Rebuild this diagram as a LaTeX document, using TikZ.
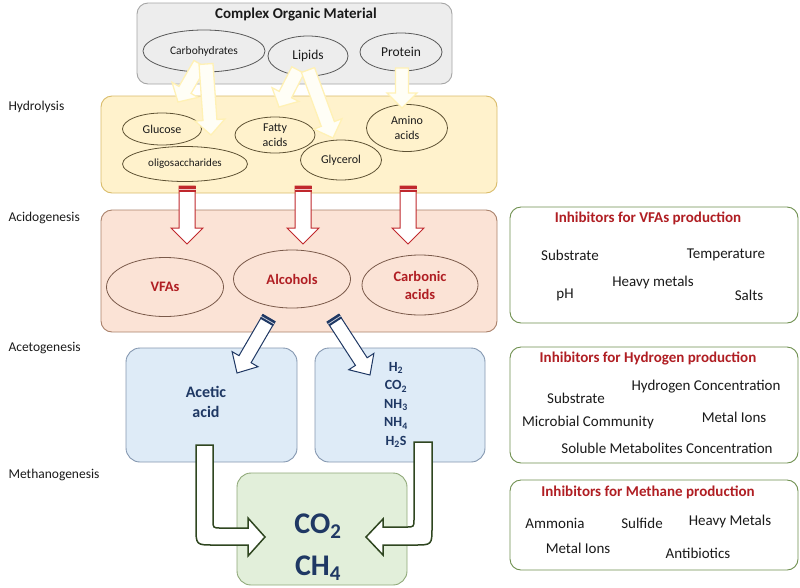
\documentclass[tikz,border=0pt]{standalone}
\usepackage{fontspec}
\setmainfont{Carlito}
\usepackage{tikz}
\usetikzlibrary{calc,shapes.geometric}
\definecolor{grisfondo}{HTML}{EDEDED}
\definecolor{grisborde}{HTML}{A5A5A5}
\definecolor{amarfondo}{HTML}{FFF2CC}
\definecolor{amarborde}{HTML}{D9BC6A}
\definecolor{rosafondo}{HTML}{FBE3D6}
\definecolor{rosaborde}{HTML}{A9806A}
\definecolor{azulfondo}{HTML}{DEEBF7}
\definecolor{azulborde}{HTML}{8497B0}
\definecolor{verdefondo}{HTML}{E2EFDA}
\definecolor{verdeborde}{HTML}{8FA878}
\definecolor{verdemarco}{HTML}{6E8F4E}
\definecolor{verdeflecha}{HTML}{2F4620}
\definecolor{rojotexto}{HTML}{B01E23}
\definecolor{rojoflecha}{HTML}{C0282D}
\definecolor{azultexto}{HTML}{1F3864}
\definecolor{tinta}{HTML}{1A1A1A}
\definecolor{tinta2}{HTML}{595959}
\definecolor{olivo}{HTML}{5E5233}
\definecolor{cafe}{HTML}{7A5A4A}
\definecolor{flechaborde}{HTML}{FFF1B5}
\definecolor{flechafondo}{HTML}{FFFEF6}
\tikzset{
  caja/.style={draw,rounded corners=11pt,line width=0.9pt,inner sep=0pt},
  marco/.style={caja,draw=verdemarco,fill=white,minimum width=288pt},
  elipse/.style={ellipse,draw=tinta2,line width=0.8pt,inner sep=0pt,text=tinta,font=\fontsize{12}{15}\selectfont,align=center},
  producto/.style={elipse,draw=cafe,text=rojotexto,minimum width=117pt,font=\fontsize{14.5}{18}\selectfont\bfseries},
  etapa/.style={anchor=west,text=tinta,font=\fontsize{13.5}{16}\selectfont},
  inhib/.style={text=rojotexto,font=\fontsize{15}{18}\selectfont\bfseries},
  factor/.style={text=tinta,font=\fontsize{15}{18}\selectfont},
  quimico/.style={text=azultexto,align=center},
  flechaclara/.style={draw=flechaborde,fill=flechafondo,line width=1.3pt,line join=miter},
  flecharoja/.style={draw=rojoflecha,fill=white,line width=1pt,line join=miter},
  flechaazul/.style={draw=azultexto,fill=white,line width=1pt,line join=miter},
  flechaverde/.style={draw=verdeflecha,fill=white,line width=1.5pt,line join=miter},
}
% flecha de bloque: estilo, desde, hacia, semiancho, semiancho punta, largo punta
\newcommand{\flechabloque}[6]{%
  \coordinate (fb-base) at ($(#3)!#6!(#2)$);
  \draw[#1] ($(#2)!#4!90:(#3)$) -- ($(fb-base)!#4!90:(#3)$) -- ($(fb-base)!#5!90:(#3)$) -- (#3)
    -- ($(fb-base)!#5!-90:(#3)$) -- ($(fb-base)!#4!-90:(#3)$) -- ($(#2)!#4!-90:(#3)$) -- cycle;
}
% banda en la cola: color, desde, hacia, semiancho, largo
\newcommand{\tapa}[5]{%
  \coordinate (tp-fin) at ($(#2)!#5!(#3)$);
  \coordinate (tp-med) at ($(#2)!0.5!(tp-fin)$);
  \fill[#1] ($(#2)!#4!90:(#3)$) -- ($(tp-fin)!#4!90:(#3)$) -- ($(tp-fin)!#4!-90:(#3)$) -- ($(#2)!#4!-90:(#3)$) -- cycle;
  \draw[white!75!#1,line width=0.8pt] ($(tp-med)!#4!90:(#3)$) -- ($(tp-med)!#4!-90:(#3)$);
}

\begin{document}
\begin{tikzpicture}[x=1pt,y=-1pt]
\useasboundingbox (0,0) rectangle (800,587);
% etapas
\node[etapa] (hidrolisis) at (5,107) {Hydrolysis};
\node[etapa] (acidogenesis) at (5,218) {Acidogenesis};
\node[etapa] (acetogenesis) at (5,348) {Acetogenesis};
\node[etapa] (metanogenesis) at (5,475) {Methanogenesis};
% cajas
\node[caja,draw=grisborde,fill=grisfondo,minimum width=315pt,minimum height=81pt] (organico) at (294.5,43.5) {};
\node[caja,draw=amarborde,fill=amarfondo,minimum width=396pt,minimum height=97pt] (hidro) at (299,144.5) {};
\node[caja,draw=rosaborde,fill=rosafondo,minimum width=396pt,minimum height=122pt] (acido) at (299,271) {};
\node[caja,draw=azulborde,fill=azulfondo,minimum width=171pt,minimum height=114pt,rounded corners=14pt] (acetico) at (211.5,405) {};
\node[caja,draw=azulborde,fill=azulfondo,minimum width=170pt,minimum height=114pt,rounded corners=14pt] (gases) at (400,405) {};
\node[caja,draw=verdeborde,fill=verdefondo,minimum width=170pt,minimum height=112pt,rounded corners=14pt] (metano) at (322,529) {};
\node[font=\fontsize{15}{18}\selectfont\bfseries,text=tinta] (titulo) at (296,15) {Complex Organic Material};
% elipses
\node[elipse,minimum width=122pt,minimum height=42pt,font=\fontsize{11.5}{14}\selectfont] (carb) at (204,51) {Carbohydrates};
\node[elipse,minimum width=80pt,minimum height=40pt,font=\fontsize{13.5}{16}\selectfont] (lipidos) at (308,56) {Lipids};
\node[elipse,minimum width=82pt,minimum height=38pt,font=\fontsize{13.5}{16}\selectfont] (proteina) at (401,52) {Protein};
\node[elipse,draw=olivo,minimum width=79pt,minimum height=32pt] (glucosa) at (162,129) {Glucose};
\node[elipse,draw=olivo,minimum width=125pt,minimum height=35pt,font=\fontsize{11}{14}\selectfont] (oligo) at (185,164) {oligosaccharides};
\node[elipse,draw=olivo,minimum width=80pt,minimum height=36pt] (grasos) at (275,135) {Fatty\\acids};
\node[elipse,draw=olivo,minimum width=81pt,minimum height=40pt] (glicerol) at (341,160) {Glycerol};
\node[elipse,draw=olivo,minimum width=81pt,minimum height=47pt] (amino) at (407,128) {Amino\\acids};
\node[producto,minimum height=59pt] (vfa) at (165,287) {VFAs};
\node[producto,minimum height=58pt] (alcohol) at (292,279) {Alcohols};
\node[producto,minimum width=116pt,minimum height=60pt] (carbonico) at (420,285) {Carbonic\\acids};
% hidrolisis
\coordinate (ca1) at (200,64);
\coordinate (ga1) at (178,102);
\coordinate (ca2) at (206,64);
\coordinate (ga2) at (211,135);
\coordinate (li1) at (298,70);
\coordinate (ga3) at (279,107);
\coordinate (li2) at (308,70);
\coordinate (ga4) at (333,138);
\coordinate (pr1) at (402,68);
\coordinate (ga5) at (402,108);
\flechabloque{flechaclara}{ca1}{ga1}{7pt}{15pt}{14pt}
\flechabloque{flechaclara}{ca2}{ga2}{7pt}{15pt}{15pt}
\flechabloque{flechaclara}{li1}{ga3}{7pt}{15pt}{14pt}
\flechabloque{flechaclara}{li2}{ga4}{7pt}{15pt}{15pt}
\flechabloque{flechaclara}{pr1}{ga5}{6.5pt}{15pt}{15pt}
% acidogenesis
\coordinate (ro1) at (187,186);
\coordinate (rp1) at (187,244);
\coordinate (ro2) at (303,186);
\coordinate (rp2) at (303,244);
\coordinate (ro3) at (408,186);
\coordinate (rp3) at (408,244);
\flechabloque{flecharoja}{ro1}{rp1}{8pt}{16pt}{16pt}
\flechabloque{flecharoja}{ro2}{rp2}{8pt}{16pt}{16pt}
\flechabloque{flecharoja}{ro3}{rp3}{8pt}{16pt}{16pt}
\tapa{rojoflecha}{ro1}{rp1}{8.5pt}{6pt}
\tapa{rojoflecha}{ro2}{rp2}{8.5pt}{6pt}
\tapa{rojoflecha}{ro3}{rp3}{8.5pt}{6pt}
% acetogenesis
\coordinate (az1) at (269,318);
\coordinate (ap1) at (237,373);
\coordinate (az2) at (333,318);
\coordinate (ap2) at (370,375);
\flechabloque{flechaazul}{az1}{ap1}{7pt}{15pt}{16pt}
\flechabloque{flechaazul}{az2}{ap2}{7pt}{15pt}{16pt}
\tapa{azultexto}{az1}{ap1}{7.5pt}{5pt}
\tapa{azultexto}{az2}{ap2}{7.5pt}{5pt}
% metanogenesis
\draw[flechaverde] (196,445) -- (213,445) -- (213,520) .. controls (213,528) .. (221,528) -- (248,528) -- (248,518)
  -- (265,537) -- (248,556) -- (248,545) -- (214,545) .. controls (196,545) .. (196,527) -- cycle;
\draw[flechaverde] (432,442) -- (414,442) -- (414,519) .. controls (414,527) .. (406,527) -- (383,527) -- (383,519)
  -- (366,537) -- (383,555) -- (383,545) -- (414,545) .. controls (432,545) .. (432,527) -- cycle;
\node[quimico,font=\fontsize{16}{20}\selectfont\bfseries] (acidoacetico) at (206,402) {Acetic\\acid};
\node[quimico,font=\fontsize{14}{18.5}\selectfont\bfseries] (lista) at (396,405) {H\textsubscript{2}\\CO\textsubscript{2}\\NH\textsubscript{3}\\NH\textsubscript{4}\\H\textsubscript{2}S};
\node[quimico,font=\fontsize{30}{42}\selectfont\bfseries] (final) at (318,547) {CO\textsubscript{2}\\CH\textsubscript{4}};
% inhibidores
\node[marco,minimum height=116pt] (inhvfa) at (654,265) {};
\node[marco,minimum height=116pt] (inhhid) at (654,405) {};
\node[marco,minimum height=90pt] (inhmet) at (654,525) {};
\node[inhib] at (648,218) {Inhibitors for VFAs production};
\node[factor] at (570,255) {Substrate};
\node[factor] at (726,255) {Temperature};
\node[factor] at (653,282) {Heavy metals};
\node[factor] at (565,295) {pH};
\node[factor] at (749,295) {Salts};
\node[inhib] at (648,358) {Inhibitors for Hydrogen production};
\node[factor] at (576,398) {Substrate};
\node[factor] at (706,387) {Hydrogen Concentration};
\node[factor] at (588,422) {Microbial Community};
\node[factor] at (734,417) {Metal Ions};
\node[factor] at (667,448) {Soluble Metabolites Concentration};
\node[inhib] at (648,492) {Inhibitors for Methane production};
\node[factor] at (555,523) {Ammonia};
\node[factor] at (642,523) {Sulfide};
\node[factor] at (730,521) {Heavy Metals};
\node[factor] at (578,548) {Metal Ions};
\node[factor] at (698,553) {Antibiotics};
\end{tikzpicture}
\end{document}
